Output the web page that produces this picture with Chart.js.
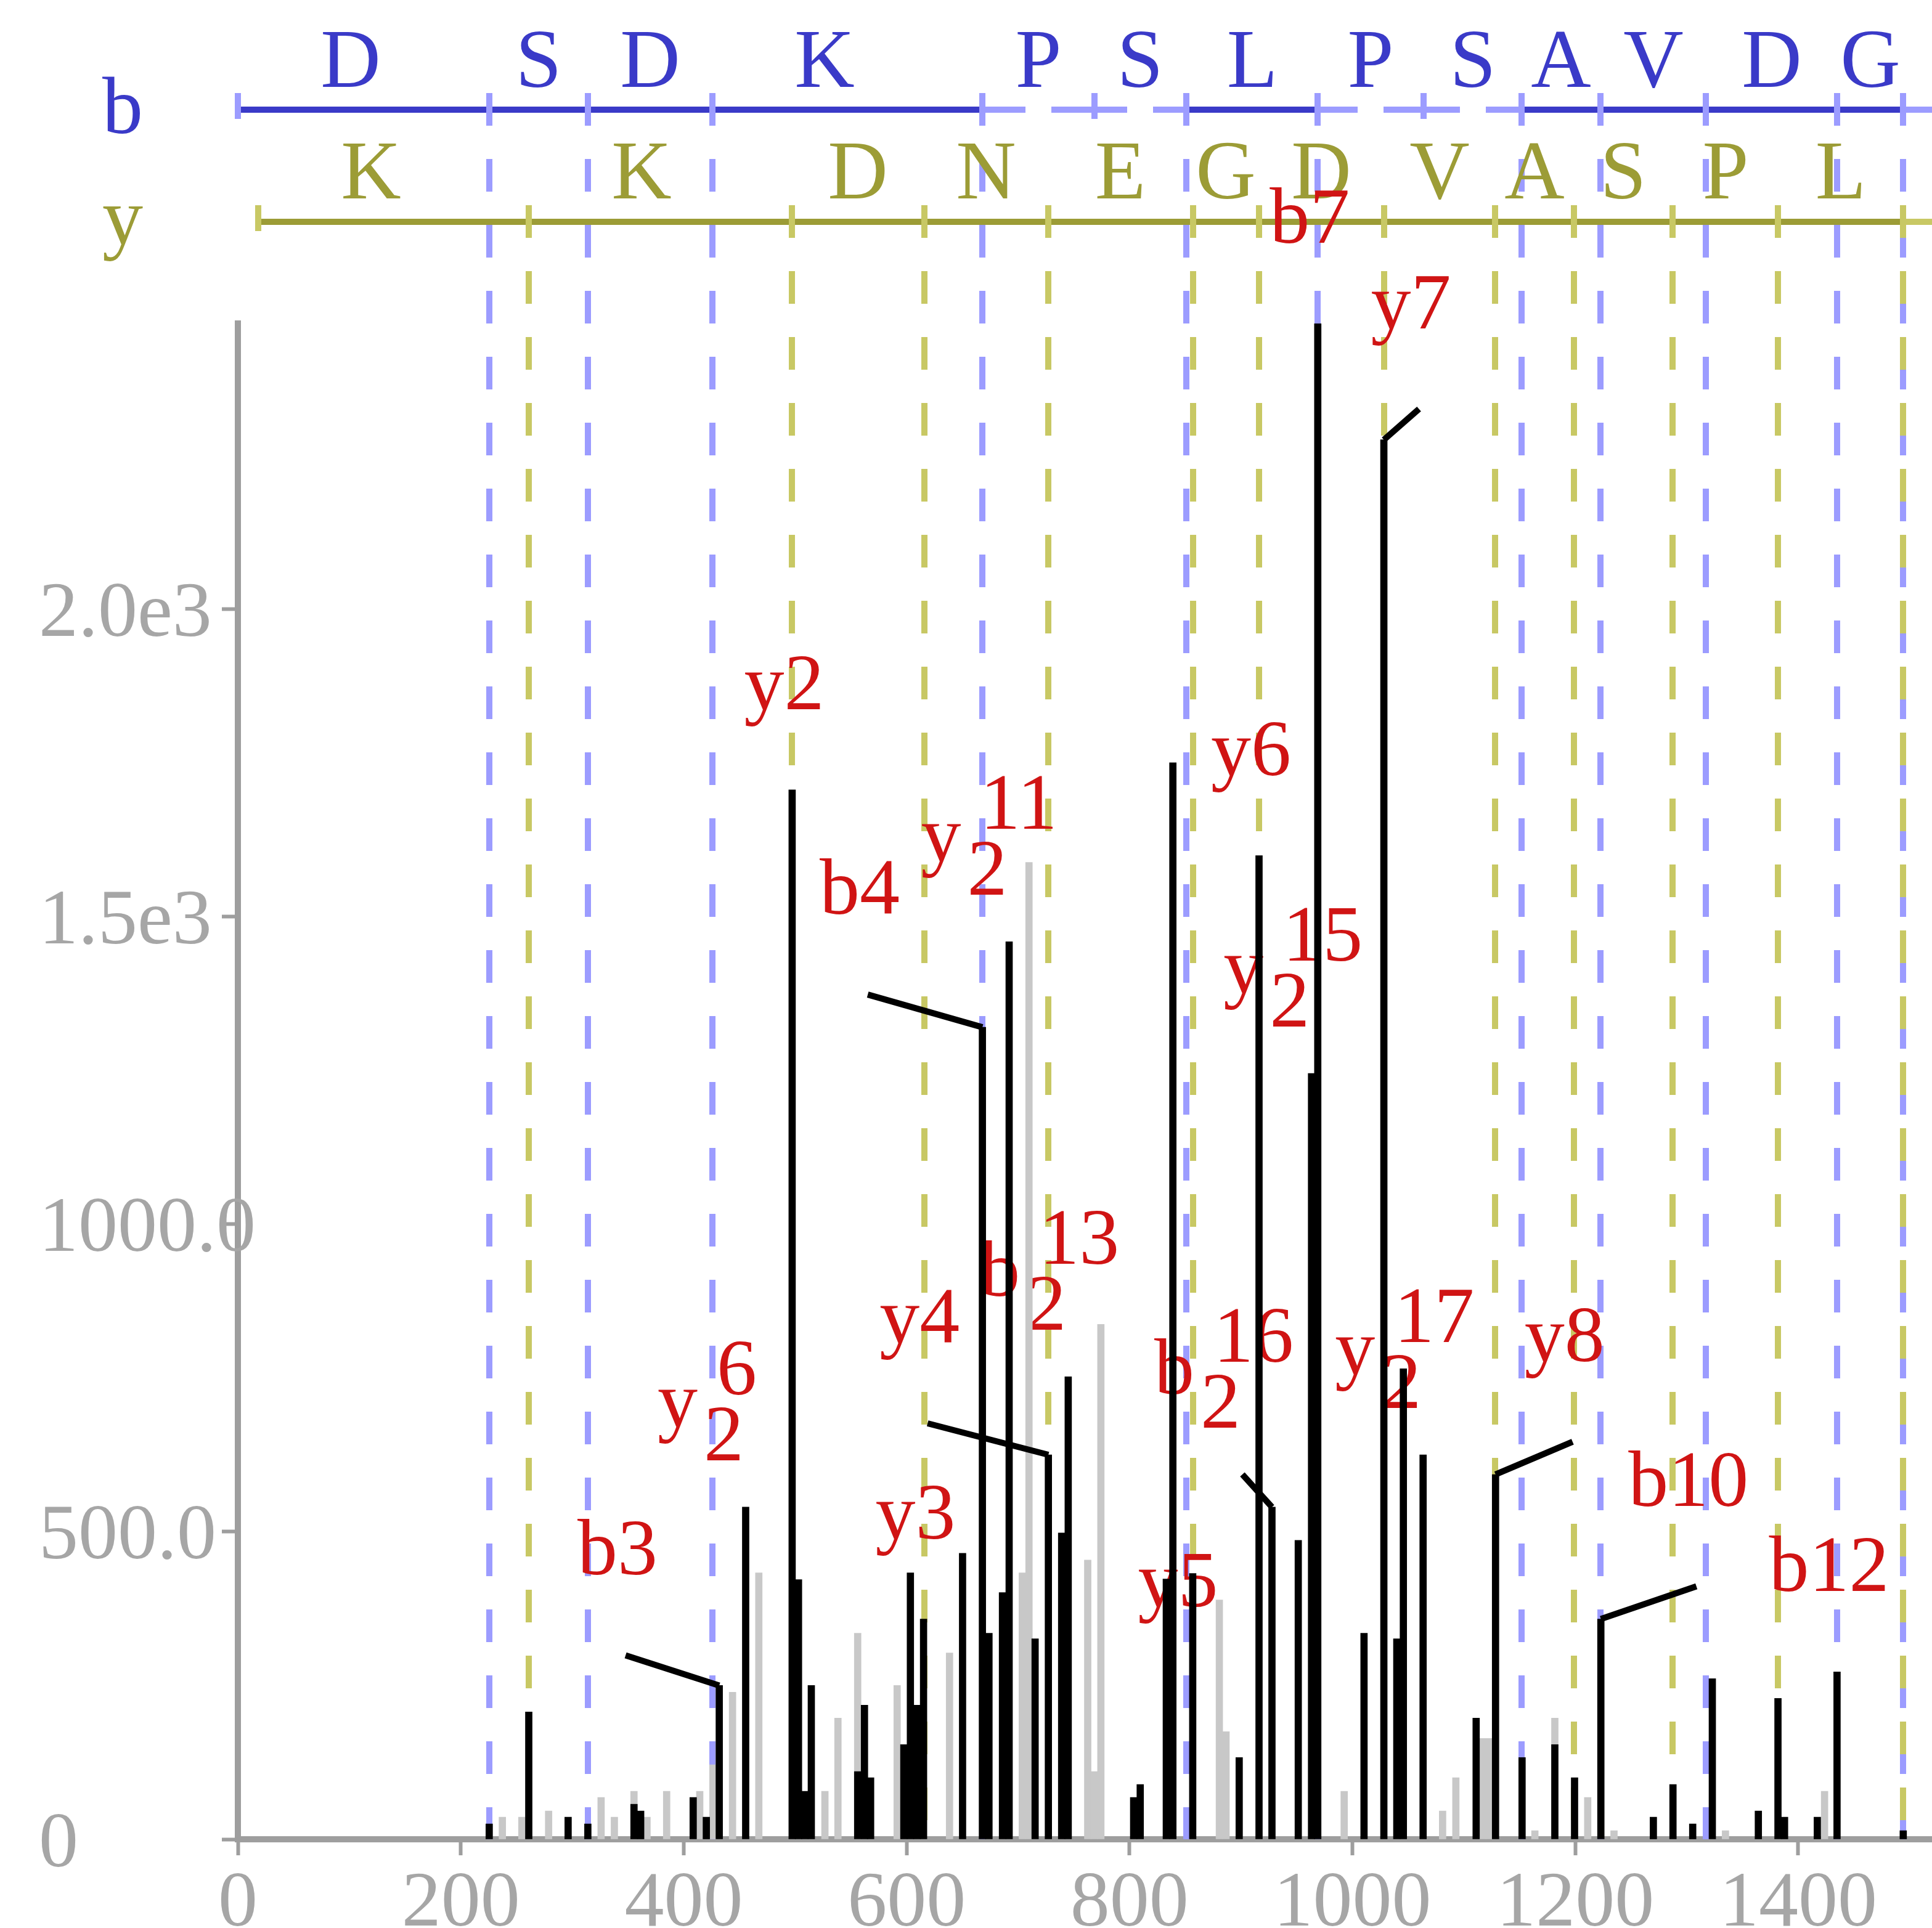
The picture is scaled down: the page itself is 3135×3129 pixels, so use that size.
<!DOCTYPE html>
<html>
<head>
<meta charset="utf-8">
<script src="https://cdn.jsdelivr.net/npm/chart.js@4.4.1/dist/chart.umd.min.js"></script>
<style>
  html, body { margin: 0; padding: 0; background: #fff; }
  canvas { display: block; }
</style>
</head>
<body>
<canvas id="spectrum" width="3135" height="3129"></canvas>
<script>
// Annotated MS/MS spectrum: peak sticks + b/y fragment ladder on top

// ── Peaks (m/z, intensity) ─────────────────────────────────
const matchedMz  = [225.5, 261.0, 296.3, 314.0, 355.4, 361.4, 408.5, 420.3, 431.9, 455.6,
                    497.3, 503.0, 508.6, 514.5, 556.1, 562.2, 567.7, 597.5, 603.4, 609.3,
                    615.2, 650.2, 668.0, 673.9, 686.0, 692.0, 715.3, 727.2, 739.1, 745.0,
                    803.7, 809.6, 833.0, 838.9, 856.7, 898.4, 916.2, 927.8, 951.4, 963.3,
                    968.9, 1010.4, 1028.2, 1039.8, 1045.7, 1063.4, 1111.0, 1128.4, 1152.2, 1181.6,
                    1199.3, 1222.9, 1270.0, 1287.6, 1305.3, 1322.9, 1364.2, 1381.8, 1387.7, 1417.1,
                    1434.8, 1494.2];
const matchedInt = [25, 207, 36, 25, 57, 46, 68, 36, 250, 540,
                    1706, 422, 78, 250, 110, 218, 100, 154, 433, 218,
                    358, 465, 1320, 335, 401, 1459, 326, 625, 498, 752,
                    68, 89, 423, 1750, 432, 133, 1599, 540, 486, 1245,
                    2464, 335, 2275, 326, 765, 625, 197, 593, 133, 154,
                    100, 358, 36, 89, 25, 261, 46, 229, 36, 36,
                    272, 14];
const otherMz    = [237.3, 254.8, 278.8, 325.9, 337.8, 355.4, 367.1, 384.7, 414.4, 426.2,
                    443.8, 467.4, 526.7, 538.4, 556.1, 591.5, 638.5, 703.8, 709.8, 762.5,
                    768.4, 774.3, 880.6, 886.6, 992.6, 1080.9, 1092.8, 1116.9, 1122.7, 1163.7,
                    1181.6, 1211.1, 1234.7, 1334.7, 1423.6];
const otherInt   = [36, 36, 46, 68, 36, 78, 36, 78, 78, 121,
                    239, 433, 78, 197, 335, 250, 303, 433, 1588, 454,
                    110, 837, 389, 175, 78, 46, 100, 164, 164, 14,
                    197, 68, 14, 14, 78];

// axis ticks
const xTicks = [0, 200, 400, 600, 800, 1000, 1200, 1400];
const yTicks = [0, 500, 1000, 1500, 2000];

// ── Fragment ladder ────────────────────────────────────────
const bIons     = [0, 225.5, 314.0, 425.6, 667.8, 768.4, 850.7, 969.0, 1063.6, 1152.0, 1222.8, 1317.3, 1435.1, 1494.2];
const bFound    = [true, true, true, true, true, false, true, true, false, true, true, true, true, true];
const bResidues = ['D', 'S', 'D', 'K', 'P', 'S', 'L', 'P', 'S', 'A', 'V', 'D', 'G'];
const yIons     = [18.2, 260.9, 497.0, 615.8, 726.9, 856.8, 916.0, 1028.2, 1127.7, 1199.0, 1287.4, 1382.0, 1494.2];
const yFound    = yIons.map(() => true);
const yResidues = ['K', 'K', 'D', 'N', 'E', 'G', 'D', 'V', 'A', 'S', 'P', 'L'];

// ion labels: [type, number, charge, peak m/z]
const ionLabels = [
  ['b', '3', 1, 431.9], ['y', '6', 2, 455.6], ['y', '2', 1, 497.3], ['y', '3', 1, 615.2],
  ['b', '4', 1, 668.0], ['y', '11', 2, 692.0], ['y', '4', 1, 727.2], ['b', '13', 2, 745.0],
  ['y', '5', 1, 856.7], ['y', '6', 1, 916.2], ['b', '16', 2, 927.8], ['y', '15', 2, 963.3],
  ['b', '7', 1, 968.9], ['y', '7', 1, 1028.2], ['y', '17', 2, 1063.4], ['y', '8', 1, 1128.4],
  ['b', '10', 1, 1222.9], ['b', '12', 1, 1434.8]
];

// labels moved off their peak (px) and whether a leader is drawn
const labelShift = {
  'b3': [-152, -49, true], 'b4': [-186, -53, true], 'y4': [-196, -51, true],
  'y5': [-11, 184, false], 'y7': [57, -50, true], 'y8': [125, -53, true],
  'b10': [155, -53, true], 'b16/2': [-48, -53, true]
};

const BLUE = '#3a3ac8', BLUE_LIGHT = '#9c9cff';
const OLIVE = '#9c9c36', OLIVE_LIGHT = '#c8c864';
const RED = '#d01414';
const AXIS = '#9e9e9e';
const SERIF = '"Liberation Serif", "Times New Roman", serif';

function drawLadder(ctx, chart, ions, found, residues, o) {
  const x = chart.scales.x, area = chart.chartArea;
  const px = v => Math.round(x.getPixelForValue(v));
  const n = ions.length;
  const centre = i => {
    const a = ions[i], b = ions[i + 1];
    return px(a + Math.min((b - a) / 2, 101));   // long (modified) residues: letter near start
  };

  // horizontal backbone
  ctx.lineWidth = 10;
  ctx.setLineDash([]);
  for (let i = 0; i < n; i++) {
    const x0 = px(ions[i]);
    const x1 = i + 1 < n ? px(ions[i + 1]) : area.right;
    const solid = i + 1 < n && found[i] && found[i + 1];
    ctx.strokeStyle = solid ? o.dark : o.light;
    ctx.beginPath();
    if (solid || i + 1 >= n) {
      ctx.moveTo(x0, o.lineY); ctx.lineTo(x1, o.lineY);
    } else {
      const c = centre(i);
      ctx.moveTo(x0, o.lineY); ctx.lineTo(c - 21, o.lineY);
      ctx.moveTo(c + 21, o.lineY); ctx.lineTo(x1, o.lineY);
    }
    ctx.stroke();
  }

  // ticks / dashed guide lines down to the axis
  ctx.strokeStyle = o.light;
  for (let i = 0; i < n; i++) {
    const xi = px(ions[i]);
    ctx.beginPath();
    if (i === 0 || !found[i]) {
      ctx.setLineDash([]);
      ctx.moveTo(xi, o.tickTop); ctx.lineTo(xi, o.lineY + 15);
    } else {
      ctx.setLineDash([53, 54]);
      ctx.moveTo(xi, o.tickTop); ctx.lineTo(xi, area.bottom);
    }
    ctx.stroke();
  }
  ctx.setLineDash([]);

  // residue letters
  ctx.fillStyle = o.dark;
  ctx.font = `135px ${SERIF}`;
  ctx.textAlign = 'center';
  ctx.textBaseline = 'alphabetic';
  residues.forEach((r, i) => ctx.fillText(r, centre(i), o.letterY));

  ctx.textAlign = 'left';
  ctx.font = `132px ${SERIF}`;
  ctx.fillText(o.name, 166, o.nameY);
}

function peakOf(mz) {
  return matchedInt[matchedMz.indexOf(mz)];
}

function anchors(chart) {
  const { x, y } = chart.scales;
  return ionLabels.map(([type, num, charge, mz]) => {
    const px = x.getPixelForValue(mz), py = y.getPixelForValue(peakOf(mz));
    const key = type + num + (charge > 1 ? '/' + charge : '');
    const sh = labelShift[key] || [0, 0, false];
    return { type, num, charge, px, py, ax: px + sh[0], ay: py + sh[1], leader: sh[2] };
  });
}

const annotations = {
  id: 'annotations',
  beforeDatasetsDraw(chart) {
    const ctx = chart.ctx;
    ctx.save();
    drawLadder(ctx, chart, bIons, bFound, bResidues,
      { dark: BLUE, light: BLUE_LIGHT, lineY: 178, tickTop: 151, letterY: 141, name: 'b', nameY: 216 });
    drawLadder(ctx, chart, yIons, yFound, yResidues,
      { dark: OLIVE, light: OLIVE_LIGHT, lineY: 360, tickTop: 333, letterY: 322, name: 'y', nameY: 396 });

    // ion labels (bars are drawn over them afterwards)
    ctx.fillStyle = RED;
    ctx.font = `130px ${SERIF}`;
    ctx.textBaseline = 'alphabetic';
    anchors(chart).forEach(l => {
      const base = l.ay - 131;
      if (l.charge === 1) {
        ctx.textAlign = 'center';
        ctx.fillText(l.type + l.num, l.ax - 13, base);
      } else {
        const left = l.ax - 143;
        ctx.textAlign = 'left';
        ctx.fillText(l.type, left, base);
        ctx.fillText(String(l.charge), left + 75, base + 55);
        ctx.fillText(l.num, left + 96, base - 52);
      }
    });
    ctx.restore();
  },
  afterDatasetsDraw(chart) {
    const ctx = chart.ctx;
    ctx.save();
    ctx.strokeStyle = '#000';
    ctx.lineWidth = 10;
    anchors(chart).filter(l => l.leader).forEach(l => {
      ctx.beginPath();
      ctx.moveTo(l.px, l.py);
      ctx.lineTo(l.ax, l.ay);
      ctx.stroke();
    });
    ctx.restore();
  }
};

const tickFont = { family: SERIF, size: 128 };

new Chart(document.getElementById('spectrum').getContext('2d'), {
  type: 'bar',
  data: {
    datasets: [
      {
        label: 'matched',
        data: matchedMz.map((m, i) => ({ x: m, y: matchedInt[i] })),
        backgroundColor: '#000000',
        barThickness: 11,
        grouped: false,
        order: 0
      },
      {
        label: 'other',
        data: otherMz.map((m, i) => ({ x: m, y: otherInt[i] })),
        backgroundColor: '#c8c8c8',
        barThickness: 11,
        grouped: false,
        order: 1
      }
    ]
  },
  options: {
    responsive: false,
    animation: false,
    devicePixelRatio: 1,
    layout: { padding: { left: 63, top: 525, right: 0, bottom: 0 } },
    plugins: { legend: { display: false }, tooltip: { enabled: false } },
    scales: {
      x: {
        type: 'linear',
        min: 0,
        max: 1520,
        offset: false,
        border: { display: true, color: AXIS, width: 10 },
        grid: { drawOnChartArea: false, drawTicks: true, tickLength: 26, tickWidth: 6, tickColor: AXIS, offset: false },
        ticks: { autoSkip: false, maxRotation: 0, color: '#a6a6a6', font: tickFont, padding: 4,
                 callback: v => String(v) },
        afterBuildTicks(s) { s.ticks = xTicks.map(value => ({ value })); },
        afterFit(s) { s.height = 144; s.paddingLeft = 0; s.paddingRight = 0; }
      },
      y: {
        min: 0,
        max: 2464,
        border: { display: true, color: AXIS, width: 10 },
        grid: { drawOnChartArea: false, drawTicks: true, tickLength: 26, tickWidth: 6, tickColor: AXIS },
        ticks: {
          crossAlign: 'far', labelOffset: 10,
          color: '#a6a6a6', font: tickFont,
          callback: v => v === 0 ? '0' : v >= 1500 ? (v / 1000).toFixed(1) + 'e3' : v.toFixed(1)
        },
        afterBuildTicks(s) { s.ticks = yTicks.map(value => ({ value })); },
        afterFit(s) {
          s.width = 323; s.paddingTop = 0; s.paddingBottom = 0;
          s._computeLabelArea = () => undefined;   // let "1000.0" run over the axis like the original
        }
      }
    }
  },
  plugins: [annotations]
});
</script>
</body>
</html>
